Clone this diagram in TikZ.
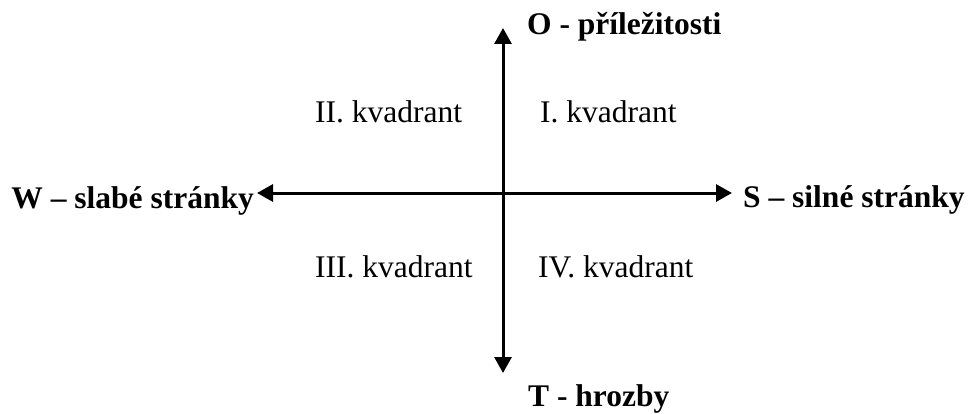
\documentclass[tikz,border=0pt]{standalone}
\usepackage{fontspec}
\setmainfont{Liberation Serif}
\usetikzlibrary{arrows.meta}
\begin{document}
\begin{tikzpicture}[x=1pt,y=-1pt,
  axis/.style={line width=3pt,{Triangle[width=17pt,length=16pt]}-{Triangle[width=17pt,length=16pt]}},
  axlabel/.style={inner sep=0pt,anchor=base west,font=\fontsize{31.5}{36}\selectfont\bfseries},
  quad/.style={inner sep=0pt,anchor=base west,font=\fontsize{31.5}{36}\selectfont}]
\useasboundingbox (0,0) rectangle (968,414);
\coordinate (top) at (503,28);
\coordinate (bottom) at (503,373);
\coordinate (left) at (257,193);
\coordinate (right) at (732,193);
\draw[axis] (bottom) -- (top);
\draw[axis] (left) -- (right);
\node[axlabel] (O) at (527,35) {O - příležitosti};
\node[axlabel] (T) at (528,406.5) {T - hrozby};
\node[axlabel,anchor=base east] (W) at (254,208) {W – slabé stránky};
\node[axlabel] (S) at (743,207) {S – silné stránky};
\node[quad] (q2) at (315,123) {II. kvadrant};
\node[quad] (q1) at (540,123) {I. kvadrant};
\node[quad] (q3) at (315,277) {III. kvadrant};
\node[quad] (q4) at (538,277) {IV. kvadrant};
\end{tikzpicture}
\end{document}
